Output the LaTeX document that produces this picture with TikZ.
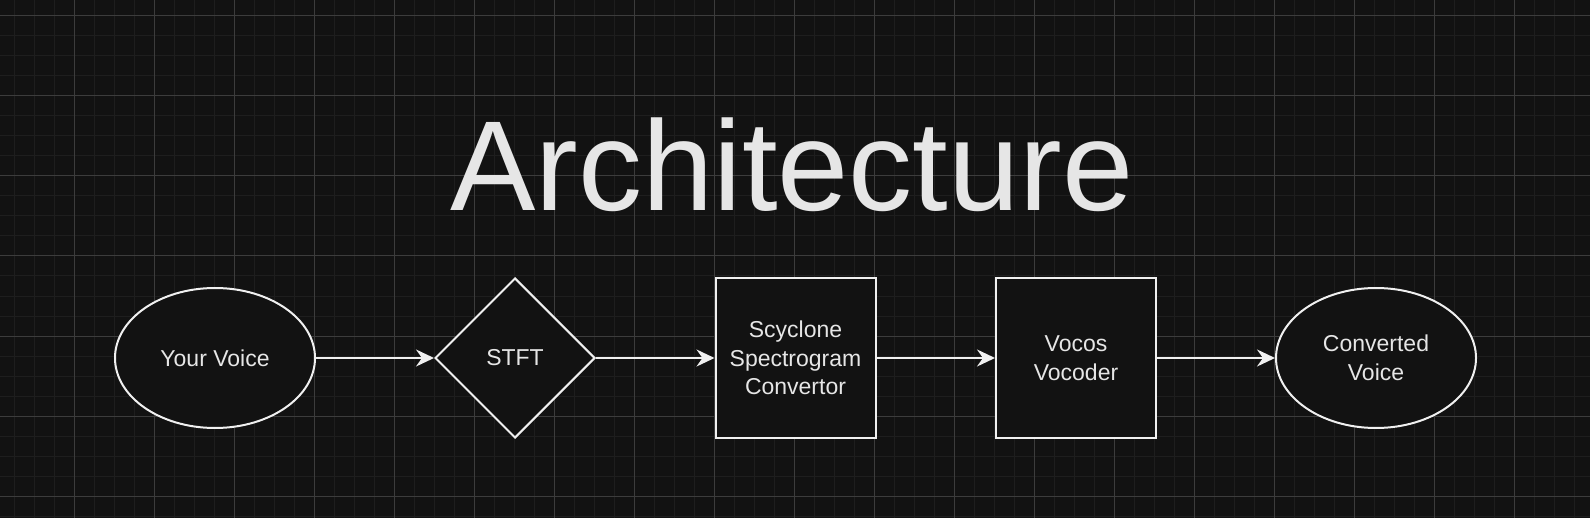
\documentclass[tikz,border=0pt]{standalone}
\usepackage{fontspec}
\setmainfont{Liberation Sans}
\usetikzlibrary{shapes.geometric, arrows.meta}
\definecolor{canvas}{HTML}{121212}
\definecolor{minorline}{HTML}{1E1E1E}
\definecolor{majorline}{HTML}{3C3C3C}
\definecolor{inkline}{HTML}{F0F0F0}
\definecolor{inktext}{HTML}{E6E6E6}
\tikzset{stage/.style={draw=inkline, fill=canvas, line width=2bp, text=inktext,
		inner sep=0pt, align=center, font=\fontsize{23bp}{28.6bp}\selectfont},
	endpoint/.style={stage, ellipse, minimum width=200bp, minimum height=140bp},
	decide/.style={stage, diamond, minimum width=160bp, minimum height=160bp},
	block/.style={stage, rectangle, minimum width=160bp, minimum height=160bp},
	flow/.style={draw=inkline, line width=2bp,
		-{Stealth[length=18bp, width=17bp, inset=6bp]}}}

\begin{document}
\begin{tikzpicture}[x=1bp, y=-1bp]
	\fill[canvas] (0,0) rectangle (1590,518);
	\useasboundingbox (0,0) rectangle (1590,518);
	% grid
	\foreach \gx in {14,34,...,1590} \draw[minorline, line width=1bp] (\gx,0) -- (\gx,518);
	\foreach \gy in {16,36,...,518} \draw[minorline, line width=1bp] (0,\gy) -- (1590,\gy);
	\foreach \gx in {74,154,...,1590} \draw[majorline, line width=1bp] (\gx,0) -- (\gx,518);
	\foreach \gy in {16,96,...,518} \draw[majorline, line width=1bp] (0,\gy) -- (1590,\gy);
	
	\node[anchor=base, text=inktext, inner sep=0pt,
		font=\fontsize{128bp}{150bp}\selectfont] (title) at (792,211) {Architecture};
	
	\node[endpoint] (voice) at (215,358) {Your Voice};
	\node[decide] (stft) at (515,358) {STFT};
	\node[block] (scyclone) at (795.5,358) {Scyclone\\Spectrogram\\Convertor};
	\node[block] (vocos) at (1076,358) {Vocos\\Vocoder};
	\node[endpoint] (converted) at (1376,358) {Converted\\Voice};
	
	\draw[flow] (voice) -- (stft);
	\draw[flow] (stft) -- (scyclone);
	\draw[flow] (scyclone) -- (vocos);
	\draw[flow] (vocos) -- (converted);
\end{tikzpicture}
\end{document}
